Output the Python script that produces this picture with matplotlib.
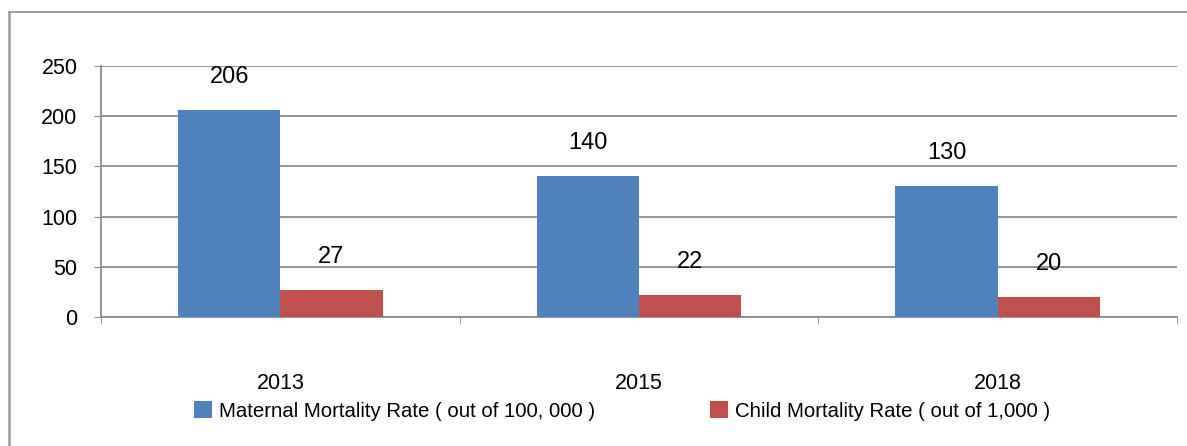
import matplotlib
matplotlib.use("Agg")
import matplotlib.pyplot as plt
from matplotlib.patches import Patch
from matplotlib.lines import Line2D
import numpy as np

years = ["2013", "2015", "2018"]
maternal = [206, 140, 130]
child = [27, 22, 20]
series_names = ["Maternal Mortality Rate ( out of 100, 000 )", "Child Mortality Rate ( out of 1,000 )"]
yticks = [0, 50, 100, 150, 200, 250]

plt.rcParams['font.family'] = ['Liberation Sans', 'DejaVu Sans']

BLUE = "#4F81BD"
RED = "#C0504D"
GRID = "#8C8C8C"

W, H = 1187, 446
fig = plt.figure(figsize=(W/100, H/100), dpi=100)
# outer frame lines (top and left only visible)
fig.lines.append(Line2D([9/W, 1.0], [1 - 12/H, 1 - 12/H], transform=fig.transFigure,
                        color="#8C8C8C", linewidth=1.2))
fig.lines.append(Line2D([9/W, 9/W], [0.0, 1 - 12/H], transform=fig.transFigure,
                        color="#999999", linewidth=1.8))

ax = fig.add_axes([101/W, 1 - 317/H, (1177 - 101)/W, (317 - 66)/H])
x = np.arange(len(years))
w = 0.285
b1 = ax.bar(x - w/2, maternal, width=w, color=BLUE, zorder=3)
b2 = ax.bar(x + w/2, child, width=w, color=RED, zorder=3)

for bars, vals in ((b1, maternal), (b2, child)):
    for r, v in zip(bars, vals):
        ax.annotate(str(v), (r.get_x() + r.get_width()/2, v), xytext=(0, 16),
                    textcoords="offset points", ha="center", va="bottom", fontsize=17)

ax.set_xlim(-0.5, len(years) - 0.5)
ax.set_ylim(0, 250)
ax.set_yticks(yticks)
ax.set_yticklabels([str(t) for t in yticks], fontsize=15.5)
ax.set_xticks(x)
ax.set_xticklabels(years, fontsize=15.5)
ax.set_xticks(np.arange(-0.5, len(years)), minor=True)
ax.tick_params(axis="x", which="major", length=0, pad=40)
ax.tick_params(axis="x", which="minor", length=5, color=GRID, direction="out")
ax.tick_params(axis="y", length=5, color=GRID, pad=12)
ax.yaxis.grid(True, color=GRID, linewidth=1.3, zorder=0)
ax.set_axisbelow(True)
for s in ("top", "right"):
    ax.spines[s].set_visible(False)
for s in ("left", "bottom"):
    ax.spines[s].set_color(GRID)
    ax.spines[s].set_linewidth(1.3)

handles = [Patch(facecolor=BLUE), Patch(facecolor=RED)]
fig.legend(handles, series_names, loc="center", bbox_to_anchor=(622/W, 1 - 411/H), ncol=2,
           frameon=False, fontsize=14.7, handlelength=0.88, handleheight=0.88, handletextpad=0.35,
           columnspacing=5.6, borderpad=0, borderaxespad=0)

fig.savefig("out.png", dpi=100)
